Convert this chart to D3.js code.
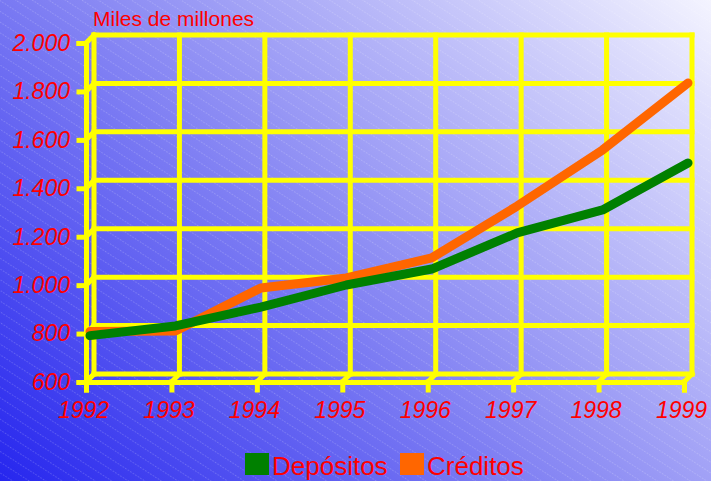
<!DOCTYPE html>
<html>
<head>
<meta charset="utf-8">
<script src="https://cdn.jsdelivr.net/npm/d3@7"></script>
<style>
  body { margin: 0; padding: 0; overflow: hidden; }
  svg { display: block; }
</style>
</head>
<body>
<svg></svg>
<script>
// data
var years = ["1992", "1993", "1994", "1995", "1996", "1997", "1998", "1999"];
var depositos = [775, 815, 893, 984, 1050, 1199, 1294, 1488];
var creditos = [792, 794, 972, 1013, 1096, 1310, 1542, 1818];
var yTicks = [600, 800, 1000, 1200, 1400, 1600, 1800, 2000];
var yLabels = ["600", "800", "1.000", "1.200", "1.400", "1.600", "1.800", "2.000"];
var seriesNames = ["Depósitos", "Créditos"];
var seriesColors = ["#008000", "#ff6600"];

var W = 711, H = 481;
var depth = 8; // 3d offset of back wall
var font = "Liberation Sans, Arial, sans-serif";

var svg = d3.select("svg").attr("width", W).attr("height", H);
var defs = svg.append("defs");

var grad = defs.append("linearGradient").attr("id", "bg")
    .attr("gradientUnits", "userSpaceOnUse")
    .attr("x1", 0).attr("y1", H).attr("x2", W * 0.85).attr("y2", -H * 0.25);
grad.append("stop").attr("offset", "0%").attr("stop-color", "#2626ee");
grad.append("stop").attr("offset", "50%").attr("stop-color", "#8e8ef4");
grad.append("stop").attr("offset", "100%").attr("stop-color", "#f6f6ff");

var pat = defs.append("pattern").attr("id", "hatch")
    .attr("patternUnits", "userSpaceOnUse")
    .attr("width", 9).attr("height", 9)
    .attr("patternTransform", "rotate(33)");
pat.append("line").attr("x1", 0).attr("y1", 0).attr("x2", 9).attr("y2", 0)
    .attr("stroke", "#ffffff").attr("stroke-opacity", 0.4)
    .attr("stroke-width", 1).attr("stroke-dasharray", "1.5,1.5");

svg.append("rect").attr("width", W).attr("height", H).attr("fill", "url(#bg)");
svg.append("rect").attr("width", W).attr("height", H).attr("fill", "url(#hatch)");

// front plane scales
var x = d3.scalePoint().domain(years).range([86, 684]);
var y = d3.scaleLinear().domain([600, 2000]).range([382, 43]);

var grid = svg.append("g")
    .attr("stroke", "#ffff00").attr("stroke-width", 5)
    .attr("stroke-linecap", "square").attr("fill", "none");

// back wall horizontals
grid.selectAll("line.bh").data(yTicks).enter().append("line")
    .attr("x1", x(years[0]) + depth).attr("x2", x(years[years.length - 1]) + depth)
    .attr("y1", function(d){ return y(d) - depth; })
    .attr("y2", function(d){ return y(d) - depth; });
// back wall verticals
grid.selectAll("line.bv").data(years).enter().append("line")
    .attr("x1", function(d){ return x(d) + depth; })
    .attr("x2", function(d){ return x(d) + depth; })
    .attr("y1", y(600) - depth).attr("y2", y(2000) - depth);
// side wall depth lines
grid.selectAll("line.sd").data(yTicks).enter().append("line")
    .attr("x1", x(years[0])).attr("x2", x(years[0]) + depth)
    .attr("y1", function(d){ return y(d); })
    .attr("y2", function(d){ return y(d) - depth; });
// floor depth lines
grid.selectAll("line.fd").data(years).enter().append("line")
    .attr("x1", function(d){ return x(d); })
    .attr("x2", function(d){ return x(d) + depth; })
    .attr("y1", y(600)).attr("y2", y(600) - depth);

// front axes with labels
var yAxis = svg.append("g")
    .attr("transform", "translate(" + x(years[0]) + ",0)")
    .call(d3.axisLeft(y).tickValues(yTicks)
        .tickFormat(function(d, i){ return yLabels[i]; })
        .tickSize(7).tickPadding(9));
var xAxis = svg.append("g")
    .attr("transform", "translate(0," + y(600) + ")")
    .call(d3.axisBottom(x).tickSize(8).tickPadding(12));

[yAxis, xAxis].forEach(function(ax){
    ax.select(".domain").attr("stroke", "#ffff00").attr("stroke-width", 5)
        .attr("stroke-linecap", "square");
    ax.selectAll(".tick line").attr("stroke", "#ffff00").attr("stroke-width", 5)
        .attr("stroke-linecap", "square");
    ax.selectAll(".tick text").attr("fill", "#ff0000")
        .style("font-family", font).style("font-size", "23px")
        .style("font-style", "italic");
});
xAxis.selectAll(".tick text").attr("x", -3);

// series lines, drawn half way into the depth
var line = d3.line()
    .x(function(d, i){ return x(years[i]) + depth / 2; })
    .y(function(d){ return y(d) - depth / 2; });

var series = [creditos, depositos];
var sColors = [seriesColors[1], seriesColors[0]];
svg.selectAll("path.series").data(series).enter().append("path")
    .attr("class", "series")
    .attr("d", line)
    .attr("fill", "none")
    .attr("stroke", function(d, i){ return sColors[i]; })
    .attr("stroke-width", 9)
    .attr("stroke-linejoin", "round")
    .attr("stroke-linecap", "round");

// unit label
svg.append("text").attr("x", 93).attr("y", 26)
    .attr("fill", "#ff0000")
    .style("font-family", font).style("font-size", "21px")
    .text("Miles de millones");

// legend
var legendX = [245, 400];
var lg = svg.selectAll("g.legend").data(seriesNames).enter().append("g")
    .attr("transform", function(d, i){ return "translate(" + legendX[i] + ",453)"; });
lg.append("rect").attr("width", 24).attr("height", 22)
    .attr("fill", function(d, i){ return seriesColors[i]; });
lg.append("text").attr("x", 27).attr("y", 22)
    .attr("fill", "#ff0000")
    .style("font-family", font).style("font-size", "26px")
    .text(function(d){ return d; });
</script>
</body>
</html>
